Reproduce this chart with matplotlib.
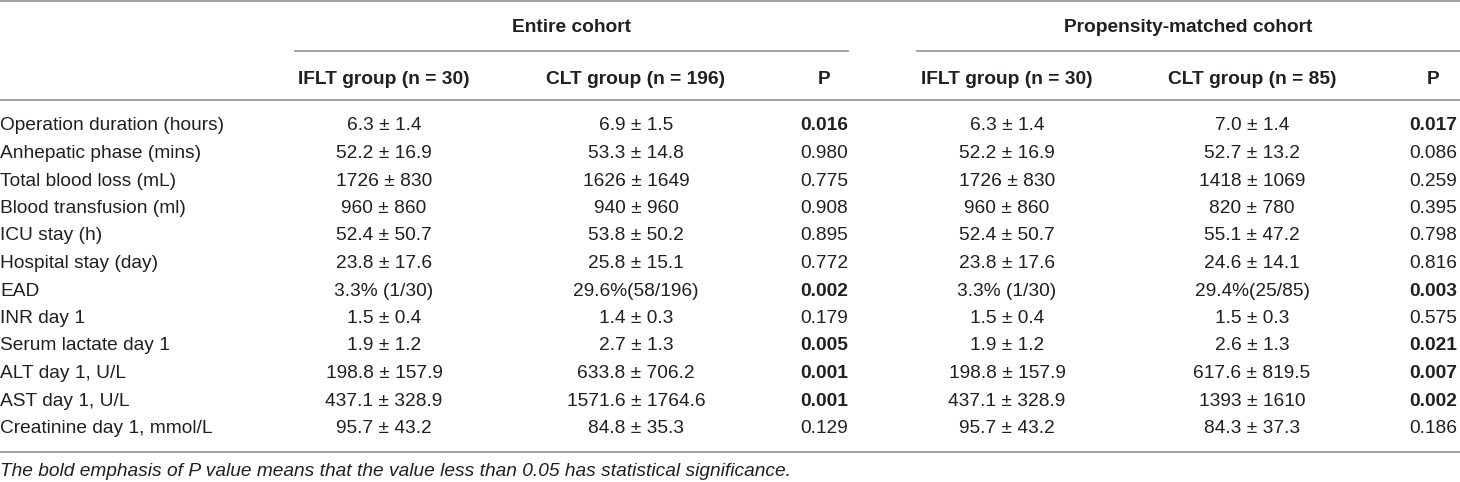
import matplotlib
import matplotlib.pyplot as plt

matplotlib.use("Agg")

plt.rcParams["font.family"] = ["Liberation Sans", "DejaVu Sans"]

# table content
row_labels = [
    "Operation duration (hours)",
    "Anhepatic phase (mins)",
    "Total blood loss (mL)",
    "Blood transfusion (ml)",
    "ICU stay (h)",
    "Hospital stay (day)",
    "EAD",
    "INR day 1",
    "Serum lactate day 1",
    "ALT day 1, U/L",
    "AST day 1, U/L",
    "Creatinine day 1, mmol/L",
]
iflt_all = [
    "6.3 ± 1.4", "52.2 ± 16.9", "1726 ± 830", "960 ± 860", "52.4 ± 50.7",
    "23.8 ± 17.6", "3.3% (1/30)", "1.5 ± 0.4", "1.9 ± 1.2", "198.8 ± 157.9",
    "437.1 ± 328.9", "95.7 ± 43.2",
]
clt_all = [
    "6.9 ± 1.5", "53.3 ± 14.8", "1626 ± 1649", "940 ± 960", "53.8 ± 50.2",
    "25.8 ± 15.1", "29.6%(58/196)", "1.4 ± 0.3", "2.7 ± 1.3", "633.8 ± 706.2",
    "1571.6 ± 1764.6", "84.8 ± 35.3",
]
p_all = [0.016, 0.980, 0.775, 0.908, 0.895, 0.772, 0.002, 0.179, 0.005, 0.001, 0.001, 0.129]
iflt_psm = [
    "6.3 ± 1.4", "52.2 ± 16.9", "1726 ± 830", "960 ± 860", "52.4 ± 50.7",
    "23.8 ± 17.6", "3.3% (1/30)", "1.5 ± 0.4", "1.9 ± 1.2", "198.8 ± 157.9",
    "437.1 ± 328.9", "95.7 ± 43.2",
]
clt_psm = [
    "7.0 ± 1.4", "52.7 ± 13.2", "1418 ± 1069", "820 ± 780", "55.1 ± 47.2",
    "24.6 ± 14.1", "29.4%(25/85)", "1.5 ± 0.3", "2.6 ± 1.3", "617.6 ± 819.5",
    "1393 ± 1610", "84.3 ± 37.3",
]
p_psm = [0.017, 0.086, 0.259, 0.395, 0.798, 0.816, 0.003, 0.575, 0.021, 0.007, 0.002, 0.186]
col_headers = [
    "IFLT group (n = 30)", "CLT group (n = 196)", "P",
    "IFLT group (n = 30)", "CLT group (n = 85)", "P",
]
group_headers = ["Entire cohort", "Propensity-matched cohort"]
footnote = ("The bold emphasis of P value means that the value less than 0.05 "
            "has statistical significance.")

W, H = 1460, 482
fig = plt.figure(figsize=(W / 100, H / 100), dpi=100)
ax = fig.add_axes([0, 0, 1, 1])
ax.set_xlim(0, W)
ax.set_ylim(H, 0)
ax.axis("off")

fs = 13.8
text_col = "#231f20"
line_col = "#9a9a9a"

col_x = [384, 636, 824, 1007, 1252, 1433]
row_y0, row_dy = 126, 27.5

# rules
ax.plot([0, W], [1, 1], color=line_col, lw=1.3)
ax.plot([295, 848], [51, 51], color=line_col, lw=1.3)
ax.plot([917, W], [51, 51], color=line_col, lw=1.3)
ax.plot([0, W], [100, 100], color=line_col, lw=1.3)
ax.plot([0, W], [452, 452], color=line_col, lw=1.3)

# headers
ax.text(571, 27, group_headers[0], ha="center", va="center", fontsize=fs,
        fontweight="bold", color=text_col)
ax.text(1188, 27, group_headers[1], ha="center", va="center", fontsize=fs,
        fontweight="bold", color=text_col)
for x, h in zip(col_x, col_headers):
    ax.text(x, 79, h, ha="center", va="center", fontsize=fs,
            fontweight="bold", color=text_col)

# body
columns = [iflt_all, clt_all, p_all, iflt_psm, clt_psm, p_psm]
for i, label in enumerate(row_labels):
    y = row_y0 + i * row_dy
    ax.text(0, y, label, ha="left", va="center", fontsize=fs, color=text_col)
    for x, col in zip(col_x, columns):
        val = col[i]
        if isinstance(val, float):
            s = "{:.3f}".format(val)
            w = "bold" if val < 0.05 else "normal"
        else:
            s, w = val, "normal"
        ax.text(x, y, s, ha="center", va="center", fontsize=fs,
                fontweight=w, color=text_col)

ax.text(0, 472, footnote, ha="left", va="center", fontsize=fs,
        style="italic", color=text_col)

fig.savefig("out.png", dpi=100)
